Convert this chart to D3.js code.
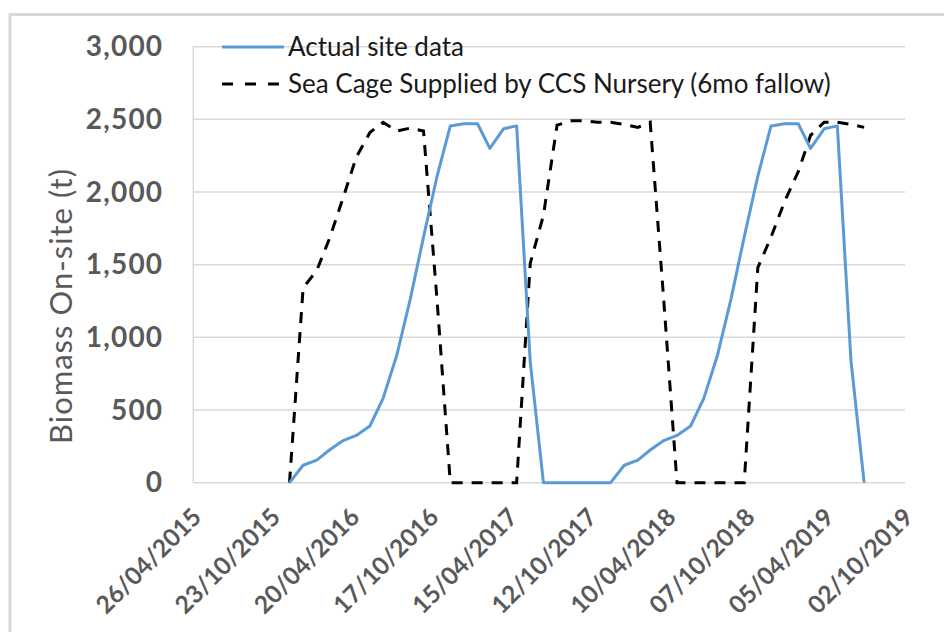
<!DOCTYPE html>
<html>
<head>
<meta charset="utf-8">
<script src="https://cdn.jsdelivr.net/npm/d3@7/dist/d3.min.js"></script>
<style>
  body { margin: 0; background: #fff; }
  svg { display: block; }
</style>
</head>
<body>
<svg id="chart"></svg>
<script>
// monthly sample dates
const months = [
  "2015-12",
  "2016-01", "2016-02", "2016-03", "2016-04", "2016-05", "2016-06",
  "2016-07", "2016-08", "2016-09", "2016-10", "2016-11", "2016-12",
  "2017-01", "2017-02", "2017-03", "2017-04", "2017-05", "2017-06",
  "2017-07", "2017-08", "2017-09", "2017-10", "2017-11", "2017-12",
  "2018-01", "2018-02", "2018-03", "2018-04", "2018-05", "2018-06",
  "2018-07", "2018-08", "2018-09", "2018-10", "2018-11", "2018-12",
  "2019-01", "2019-02", "2019-03", "2019-04", "2019-05", "2019-06",
  "2019-07"
];
// biomass (t)
const actualSite = [
  0, 120, 155, 225, 290, 325, 390, 580, 875, 1265, 1690, 2110, 2455,
  2470, 2470, 2300, 2435, 2455, 830, 0, 0, 0, 0, 0, 0,
  120, 155, 225, 290, 325, 390, 580, 875, 1265, 1690, 2110, 2455,
  2470, 2470, 2300, 2435, 2455, 840, 0
];
const ccsNursery = [
  0, 1340, 1460, 1680, 1960, 2240, 2410, 2480, 2420, 2440, 2420, 1250,
  0, 0, 0, 0, 0, 0,
  1510, 1840, 2460, 2490, 2490, 2480, 2480, 2465, 2445, 2480, 1250,
  0, 0, 0, 0, 0, 0,
  1480, 1690, 1935, 2140, 2390, 2480, 2480, 2465, 2445
];
const seriesNames = ["Actual site data", "Sea Cage Supplied by CCS Nursery (6mo fallow)"];
const xTickLabels = [
  "26/04/2015", "23/10/2015", "20/04/2016", "17/10/2016", "15/04/2017",
  "12/10/2017", "10/04/2018", "07/10/2018", "05/04/2019", "02/10/2019"
];
const yTicks = [0, 500, 1000, 1500, 2000, 2500, 3000];

const W = 944, H = 632;
const margin = { top: 46.7, right: 39, bottom: 149.3, left: 193.3 };
const width = W - margin.left - margin.right;
const height = H - margin.top - margin.bottom;

const parseMonth = d3.timeParse("%Y-%m");
const parseTick = d3.timeParse("%d/%m/%Y");
const dates = months.map(parseMonth);
const tickDates = xTickLabels.map(parseTick);

const font = "Lato, 'Open Sans', sans-serif";

const svg = d3.select("#chart").attr("width", W).attr("height", H);

// chart frame
svg.append("rect")
  .attr("x", 10).attr("y", 14.5)
  .attr("width", W + 20).attr("height", H + 20)
  .attr("fill", "none")
  .attr("stroke", "#d9d9d9")
  .attr("stroke-width", 3);

const g = svg.append("g")
  .attr("transform", `translate(${margin.left},${margin.top})`);

const x = d3.scaleTime()
  .domain([tickDates[0], tickDates[tickDates.length - 1]])
  .range([0, width]);
const y = d3.scaleLinear().domain([0, 3000]).range([height, 0]);

// gridlines
g.append("g")
  .selectAll("line")
  .data(yTicks)
  .join("line")
  .attr("x1", 0).attr("x2", width)
  .attr("y1", d => y(d)).attr("y2", d => y(d))
  .attr("stroke", "#d9d9d9")
  .attr("stroke-width", 1.5);

// y axis line
g.append("line")
  .attr("x1", 0).attr("x2", 0)
  .attr("y1", 0).attr("y2", height)
  .attr("stroke", "#d9d9d9")
  .attr("stroke-width", 1.5);

// y axis labels
const yAxis = g.append("g")
  .call(d3.axisLeft(y).tickValues(yTicks).tickFormat(d3.format(",")).tickSize(0).tickPadding(30));
yAxis.select(".domain").remove();
yAxis.selectAll("text")
  .attr("fill", "#595959")
  .style("font-family", font)
  .style("font-size", "28px")
  .style("font-weight", 700)
  .style("letter-spacing", "1.2px");

// x axis labels
const xAxis = g.append("g")
  .attr("transform", `translate(0,${height})`)
  .call(d3.axisBottom(x).tickValues(tickDates).tickFormat((d, i) => xTickLabels[i]).tickSize(0));
xAxis.select(".domain").remove();
xAxis.selectAll("text")
  .attr("fill", "#595959")
  .style("font-family", font)
  .style("font-size", "24.5px")
  .style("font-weight", 700)
  .attr("text-anchor", "end")
  .attr("dy", null)
  .attr("y", 0)
  .attr("transform", "translate(9,36) rotate(-45)");

// y title
svg.append("text")
  .attr("transform", "translate(72,306) rotate(-90)")
  .attr("text-anchor", "middle")
  .attr("fill", "#595959")
  .style("font-family", font)
  .style("font-size", "31px")
  .style("letter-spacing", "1px")
  .text("Biomass On-site (t)");

const line = d3.line()
  .x((d, i) => x(dates[i]))
  .y(d => y(d));

g.append("path")
  .datum(ccsNursery)
  .attr("fill", "none")
  .attr("stroke", "#000")
  .attr("stroke-width", 3)
  .attr("stroke-dasharray", "11,9")
  .attr("d", line);

g.append("path")
  .datum(actualSite)
  .attr("fill", "none")
  .attr("stroke", "#5b9bd5")
  .attr("stroke-width", 3)
  .attr("stroke-linejoin", "round")
  .attr("d", line);

// legend
const legend = svg.append("g").attr("transform", "translate(222,47)");
const legendItems = [
  { name: seriesNames[0], color: "#5b9bd5", dash: null },
  { name: seriesNames[1], color: "#000", dash: "11,12" }
];
const li = legend.selectAll("g")
  .data(legendItems)
  .join("g")
  .attr("transform", (d, i) => `translate(0,${i * 37})`);
li.append("line")
  .attr("x1", 0).attr("x2", 62)
  .attr("stroke", d => d.color)
  .attr("stroke-width", 3)
  .attr("stroke-dasharray", d => d.dash);
li.append("text")
  .attr("x", 66)
  .attr("dy", "0.35em")
  .attr("fill", "#1a1a1a")
  .style("font-family", font)
  .style("font-size", "26px")
  .text(d => d.name);
</script>
</body>
</html>
